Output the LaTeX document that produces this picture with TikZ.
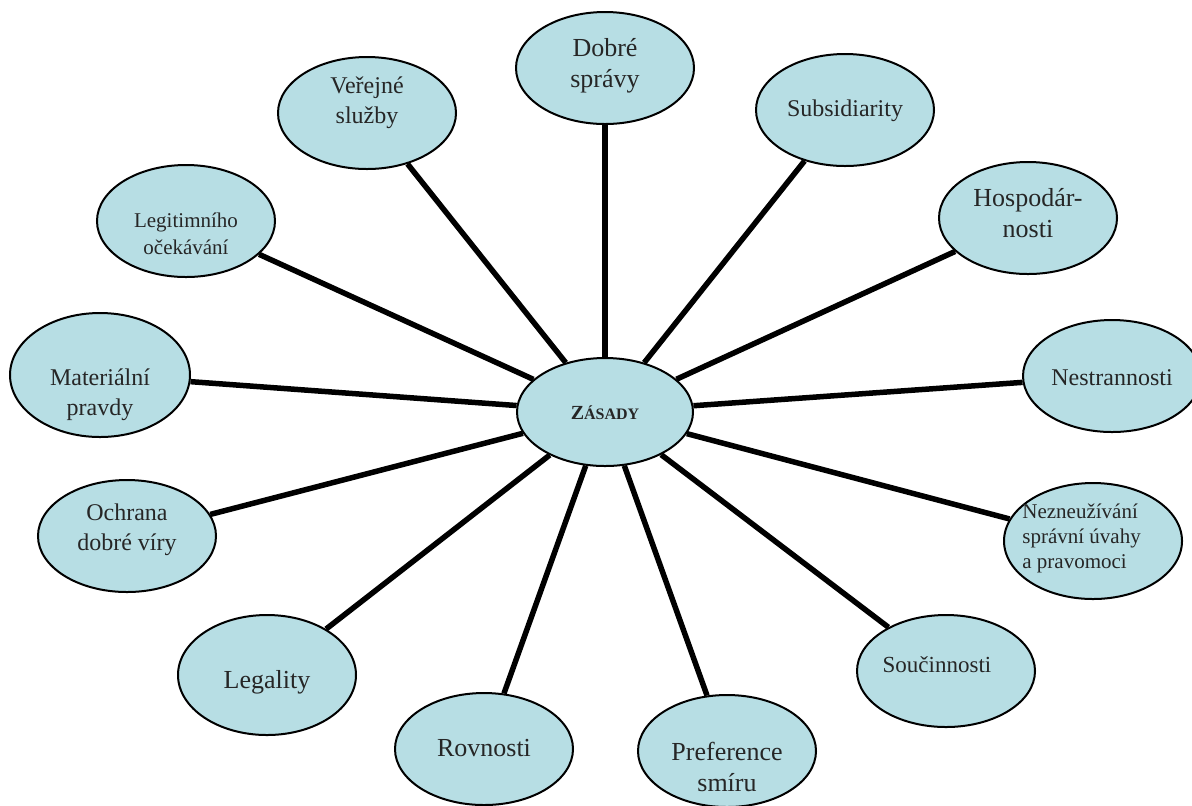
\documentclass[tikz,border=0pt]{standalone}
\usepackage{fontspec}
\setmainfont{Liberation Serif}
\usepackage{xcolor}
\usetikzlibrary{shapes.geometric}
\definecolor{svetlemodra}{RGB}{183,222,228}
\tikzset{
zasada/.style={
 ellipse, 
 draw=black, 
 line width=1pt, 
 fill=svetlemodra, 
 minimum width=89pt, 
 minimum height=56pt, 
 inner sep=0pt
 },
popis/.style={
 align=center, 
 inner sep=0pt, 
 text=black!85, 
 font=\fontsize{12}{15}\selectfont
 },
velky/.style={
 font=\fontsize{13}{15.5}\selectfont
 },
maly/.style={
 font=\fontsize{10.5}{12.5}\selectfont
 },
paprsek/.style={
 draw=black, 
 line width=2.75pt
 }
}
\begin{document}
\begin{tikzpicture}[x=0.5pt,y=-0.5pt]
\useasboundingbox (0,0) rectangle (1192,805);
% stred
\node[zasada,minimum width=88pt,minimum height=54pt] (z) at (605,412) {};
\node[popis] (z-t) at (605,413) {\fontsize{10}{12}\selectfont\bfseries Z\fontsize{8}{10}\selectfont ÁSADY};
% okoli
\node[zasada] (ds) at (605,68) {};
\node[zasada] (vs) at (367,113) {};
\node[zasada] (sub) at (845,110) {};
\node[zasada] (hos) at (1028,218) {};
\node[zasada] (nes) at (1112,376) {};
\node[zasada,minimum height=58pt] (nez) at (1093,541) {};
\node[zasada] (sou) at (946,671) {};
\node[zasada] (pre) at (727,751) {};
\node[zasada] (rov) at (484,749) {};
\node[zasada,minimum height=60pt] (leg) at (267,675) {};
\node[zasada] (och) at (127,536) {};
\node[zasada,minimum width=90pt,minimum height=62pt] (mat) at (100,375) {};
\node[zasada] (legi) at (186,221) {};
% texty
\node[popis,velky] (ds-t) at (605,66) {Dobré\\správy};
\node[popis] (vs-t) at (367,103) {Veřejné\\služby};
\node[popis] (sub-t) at (845,111) {Subsidiarity};
\node[popis,velky] (hos-t) at (1028,213) {Hospodár-\\nosti};
\node[popis] (nes-t) at (1112,378) {Nestrannosti};
\node[popis,maly,align=left,anchor=west] (nez-t) at (1022,538) {Nezneužívání\\správní úvahy\\a pravomoci};
\node[popis,font=\fontsize{11.5}{14}\selectfont] (sou-t) at (937,665) {Součinnosti};
\node[popis,velky] (pre-t) at (727,767) {Preference\\smíru};
\node[popis,velky] (rov-t) at (484,748) {Rovnosti};
\node[popis,velky] (leg-t) at (267,682) {Legality};
\node[popis] (och-t) at (127,530) {Ochrana\\dobré víry};
\node[popis] (mat-t) at (100,395) {Materiální\\pravdy};
\node[popis,maly,font=\fontsize{10.5}{13.5}\selectfont] (legi-t) at (186,234) {Legitimního\\očekávání};
% paprsky
\draw[paprsek] (z) -- (ds);
\draw[paprsek] (z) -- (vs);
\draw[paprsek] (z) -- (sub);
\draw[paprsek] (z) -- (hos);
\draw[paprsek] (z) -- (nes);
\draw[paprsek] (z) -- (nez);
\draw[paprsek] (z) -- (sou);
\draw[paprsek] (z) -- (pre);
\draw[paprsek] (z) -- (rov);
\draw[paprsek] (z) -- (leg);
\draw[paprsek] (z) -- (och);
\draw[paprsek] (z) -- (mat);
\draw[paprsek] (z) -- (legi);
\end{tikzpicture}
\end{document}
